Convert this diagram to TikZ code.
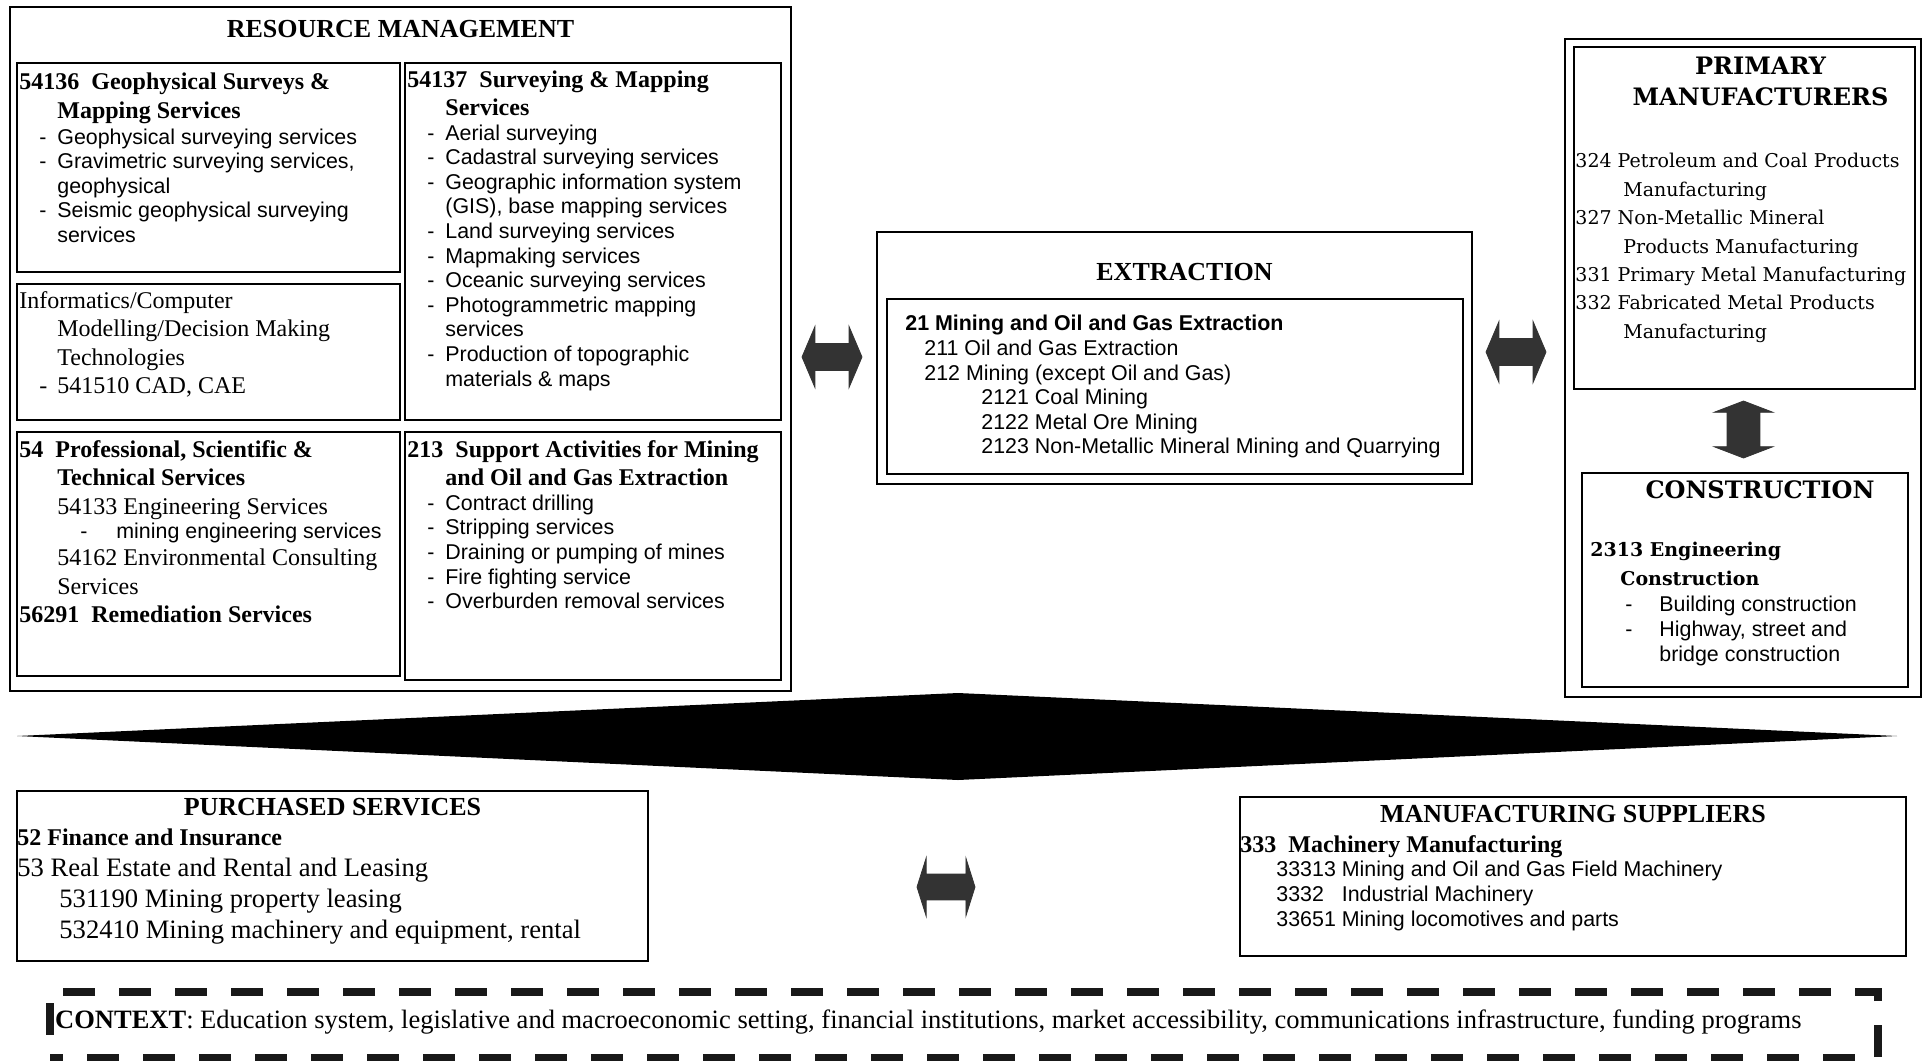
\documentclass[tikz,border=0pt]{standalone}
\usepackage{fontspec}
\setmainfont{Liberation Serif}
\setsansfont{Liberation Sans}
\newfontfamily\wideserif{DejaVu Serif}
\usetikzlibrary{positioning,fit,shapes.arrows}

\newcommand{\sfa}{\normalfont\sffamily\fontsize{10.7}{12.3}\selectfont}
\newcommand{\ind}{\hspace*{19pt}}
\newcommand{\itm}[1]{\makebox[19pt][l]{\hspace*{10pt}\sfa -}{\sfa #1}}
\newcommand{\cnt}[1]{\ind{\sfa #1}}

\tikzset{
  boxframe/.style={draw=black, line width=1pt, inner sep=0pt},
  boxtext/.style={inner sep=0pt, align=left, font=\fontsize{12}{12.3}\selectfont},
  boxtitle/.style={inner sep=0pt, font=\bfseries\fontsize{13}{15}\selectfont},
  ctxbox/.style={draw=black!90, line width=3.8pt, dash pattern=on 16pt off 12pt, dash phase=9.5pt, inner sep=0pt},
  dblarrow/.style={double arrow, fill=black!80, draw=black!80, inner sep=6.5pt,
    minimum height=30pt, double arrow head extend=8.5pt,
    double arrow tip angle=134}
}

\begin{document}
\begin{tikzpicture}[x=0.5pt,y=-0.5pt]
\useasboundingbox (0,0) rectangle (1931,1060);

% resource management
\node[boxframe, line width=1.2pt, fit={(10,7) (791,691)}] (rm) {};
\node[boxtitle, below=7pt of rm.north] (rm-t) {RESOURCE MANAGEMENT};
\node[boxframe, fit={(17,63) (400,272)}] (geo) {};
\node[boxframe, fit={(405,63) (781,420)}] (surv) {};
\node[boxframe, fit={(17,284) (400,420)}] (info) {};
\node[boxframe, fit={(17,432) (400,676)}] (prof) {};
\node[boxframe, fit={(405,432) (781,680)}] (supp) {};

\node[boxtext, below right=5pt and 1.5pt of geo.north west] (geo-t) {\textbf{54136\ \ Geophysical Surveys \&}\\[2.2pt]
  \ind\textbf{Mapping Services}\\[0.7pt]
  \itm{Geophysical surveying services}\\
  \itm{Gravimetric surveying services,}\\
  \cnt{geophysical}\\
  \itm{Seismic geophysical surveying}\\
  \cnt{services}};
\node[boxtext, below right=4pt and 1.5pt of surv.north west] (surv-t) {\textbf{54137\ \ Surveying \& Mapping}\\[1.9pt]
  \ind\textbf{Services}\\
  \itm{Aerial surveying}\\
  \itm{Cadastral surveying services}\\
  \itm{Geographic information system}\\
  \cnt{(GIS), base mapping services}\\
  \itm{Land surveying services}\\
  \itm{Mapmaking services}\\
  \itm{Oceanic surveying services}\\
  \itm{Photogrammetric mapping}\\
  \cnt{services}\\
  \itm{Production of topographic}\\
  \cnt{materials \& maps}};
\node[boxtext, below right=4pt and 1.5pt of info.north west] (info-t) {Informatics/Computer\\[1.9pt]
  \ind Modelling/Decision Making\\[1.9pt]
  \ind Technologies\\[1.9pt]
  \makebox[19pt][l]{\hspace*{10pt}-}541510 CAD, CAE};
\node[boxtext, below right=4.5pt and 1.5pt of prof.north west] (prof-t) {\textbf{54\ \ Professional, Scientific \&}\\[1.9pt]
  \ind\textbf{Technical Services}\\[1.9pt]
  \ind 54133 Engineering Services\\
  \makebox[48.5pt][l]{\hspace*{30.5pt}\sfa -}{\sfa mining engineering services}\\[1.2pt]
  \ind 54162 Environmental Consulting\\[1.9pt]
  \ind Services\\[1.9pt]
  \textbf{56291\ \ Remediation Services}};
\node[boxtext, below right=4.5pt and 1.5pt of supp.north west] (supp-t) {\textbf{213\ \ Support Activities for Mining}\\[1.9pt]
  \ind\textbf{and Oil and Gas Extraction}\\
  \itm{Contract drilling}\\
  \itm{Stripping services}\\
  \itm{Draining or pumping of mines}\\
  \itm{Fire fighting service}\\
  \itm{Overburden removal services}};

% extraction
\node[boxframe, fit={(877,232) (1472,484)}] (ext) {};
\node[boxtitle, below=16pt of ext.north, xshift=5pt] (ext-t) {EXTRACTION};
\node[boxframe, fit={(887,299) (1463,474)}] (extin) {};
\node[boxtext, font=\sfa, below right=8.5pt and 9.5pt of extin.north west] (extin-t) {\textbf{21 Mining and Oil and Gas Extraction}\\
  \hspace*{9.5pt}211 Oil and Gas Extraction\\
  \hspace*{9.5pt}212 Mining (except Oil and Gas)\\
  \hspace*{38pt}2121 Coal Mining\\
  \hspace*{38pt}2122 Metal Ore Mining\\
  \hspace*{38pt}2123 Non-Metallic Mineral Mining and Quarrying};

% primary manufacturers and construction
\node[boxframe, line width=1.2pt, fit={(1565,39) (1921,697)}] (prim) {};
\node[boxframe, fit={(1574,47) (1915,389)}] (primin) {};
\node[boxtitle, font=\wideserif\bfseries\fontsize{12}{15.5}\selectfont, align=center, below=5.5pt of primin.north, xshift=8pt] (primin-t) {PRIMARY\\MANUFACTURERS};
\node[boxtext, font=\wideserif\fontsize{9.5}{14.2}\selectfont, below right=53.5pt and 1pt of primin.north west] (primin-b) {324 Petroleum and Coal Products\\
  \hspace*{24pt}Manufacturing\\
  327 Non-Metallic Mineral\\
  \hspace*{24pt}Products Manufacturing\\
  331 Primary Metal Manufacturing\\
  332 Fabricated Metal Products\\
  \hspace*{24pt}Manufacturing};
\node[boxframe, fit={(1582,473) (1908,687)}] (cons) {};
\node[boxtitle, font=\wideserif\bfseries\fontsize{12}{14}\selectfont, below=4pt of cons.north, xshift=7.5pt] (cons-t) {CONSTRUCTION};
\node[boxtext, font=\wideserif\bfseries\fontsize{9.5}{12.3}\selectfont, below right=35pt and 4.5pt of cons.north west] (cons-b) {2313 Engineering\\[2.2pt]
  \hspace*{15pt}Construction\\[0.7pt]
  \makebox[34.5pt][l]{\hspace*{17.5pt}\sfa -}{\sfa Building construction}\\
  \makebox[34.5pt][l]{\hspace*{17.5pt}\sfa -}{\sfa Highway, street and}\\
  \hspace*{34.5pt}{\sfa bridge construction}};

% big diamond
\fill (17,736) -- (958,693) -- (1897,736) -- (958,780) -- cycle;

% purchased services
\node[boxframe, fit={(17,791) (648,961)}] (purch) {};
\node[boxtitle, below=4pt of purch.north] (purch-t) {PURCHASED SERVICES};
\node[boxtext, font=\fontsize{13.3}{15.5}\selectfont, below right=19pt and 0.5pt of purch.north west] (purch-b) {{\bfseries\fontsize{12}{15.5}\selectfont 52 Finance and Insurance}\\
  53 Real Estate and Rental and Leasing\\
  \hspace*{21pt}531190 Mining property leasing\\
  \hspace*{21pt}532410 Mining machinery and equipment, rental};

% manufacturing suppliers
\node[boxframe, fit={(1240,797) (1906,956)}] (msup) {};
\node[boxtitle, below=4.5pt of msup.north] (msup-t) {MANUFACTURING SUPPLIERS};
\node[boxtext, below right=19.5pt and 0.5pt of msup.north west] (msup-b) {\textbf{333\ \ Machinery Manufacturing}\\
  \hspace*{18pt}{\sfa 33313 Mining and Oil and Gas Field Machinery}\\
  \hspace*{18pt}{\sfa 3332\ \ \ Industrial Machinery}\\
  \hspace*{18pt}{\sfa 33651 Mining locomotives and parts}};

% arrows
\node[dblarrow] (a1) at (832,357) {};
\node[dblarrow] (a2) at (1516,352) {};
\node[dblarrow, rotate=90, minimum height=28.5pt, inner sep=8pt, double arrow head extend=6.5pt, double arrow tip angle=138] (a3) at (1743.5,429.5) {};
\node[dblarrow, minimum height=29pt, inner sep=6.25pt, double arrow head extend=8pt, double arrow tip angle=145] (a4) at (946,887) {};

% context
\node[ctxbox, fit={(50,992) (1878,1058)}] (ctx) {};
\node[boxtext, font=\fontsize{13.25}{15}\selectfont, right=4.3pt of ctx.west, yshift=1.5pt] (ctx-t) {\textbf{CONTEXT}: Education system, legislative and macroeconomic setting, financial institutions, market accessibility, communications infrastructure, funding programs};
\end{tikzpicture}
\end{document}
